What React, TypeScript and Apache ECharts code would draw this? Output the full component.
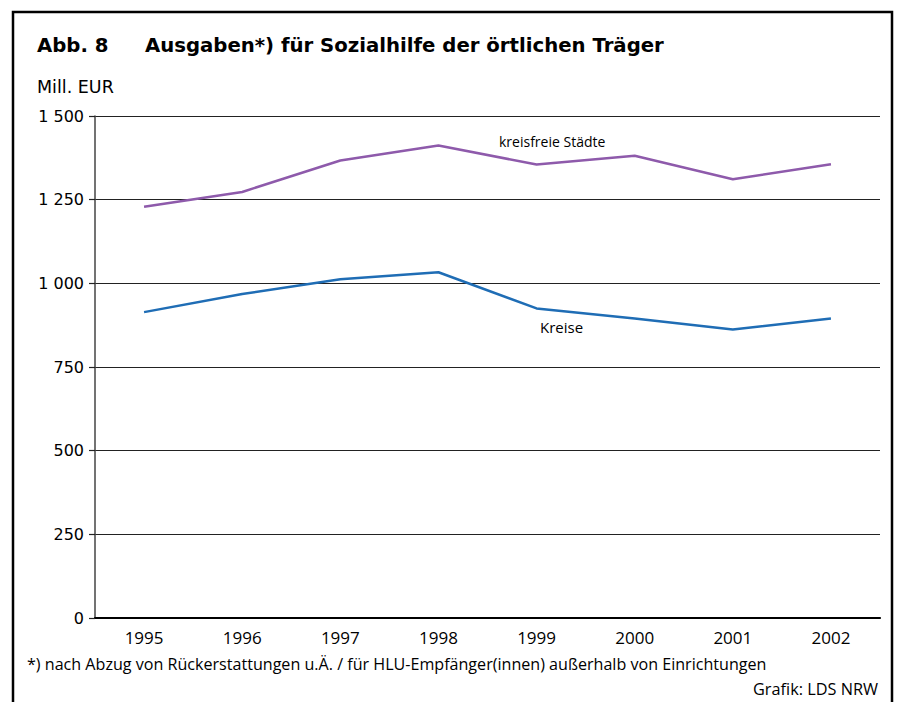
import React, { useEffect, useRef } from "react";
import * as echarts from "echarts";

const years = ["1995", "1996", "1997", "1998", "1999", "2000", "2001", "2002"];
const kreisfreieStaedte = [1229, 1273, 1367, 1412, 1355, 1381, 1311, 1356];
const kreise = [914, 968, 1012, 1033, 925, 895, 862, 895];
const yTicks = [0, 250, 500, 750, 1000, 1250, 1500];

const FONT = "'Open Sans', 'Noto Sans', sans-serif";
const DFONT = "'DejaVu Sans', 'Open Sans', sans-serif";

function fmt(v: number): string {
  const s = String(v);
  if (s.length > 3) return s.slice(0, s.length - 3) + " " + s.slice(s.length - 3);
  return s;
}

export default function App() {
  const ref = useRef<HTMLDivElement>(null);
  useEffect(() => {
    if (!ref.current) return;
    const chart = echarts.init(ref.current, null, { renderer: "svg" });
    chart.setOption({
      animation: false,
      backgroundColor: "#ffffff",
      grid: { left: 95, right: 19, top: 116, bottom: 84, containLabel: false },
      xAxis: {
        type: "category",
        data: years,
        boundaryGap: true,
        axisLine: { show: true, onZero: true, lineStyle: { color: "#000", width: 2.2 } },
        axisTick: { show: false },
        axisLabel: { color: "#000", fontSize: 17, fontFamily: FONT, margin: 11 },
        splitLine: { show: false },
      },
      yAxis: {
        type: "value",
        min: yTicks[0],
        max: yTicks[yTicks.length - 1],
        interval: 250,
        axisLine: { show: true, lineStyle: { color: "#444", width: 1.5 } },
        axisTick: { show: true, length: 6, lineStyle: { color: "#222", width: 1.2 } },
        axisLabel: {
          color: "#000",
          fontSize: 16,
          fontFamily: DFONT,
          margin: 11,
          formatter: (v: number) => fmt(v),
        },
        splitLine: { show: true, lineStyle: { color: "#222", width: 1.2 } },
      },
      series: [
        {
          type: "line",
          name: "kreisfreie Städte",
          data: kreisfreieStaedte,
          symbol: "none",
          lineStyle: { color: "#8e5aab", width: 2.5 },
          z: 3,
        },
        {
          type: "line",
          name: "Kreise",
          data: kreise,
          symbol: "none",
          lineStyle: { color: "#1f6db5", width: 2.5 },
          z: 3,
        },
      ],
      graphic: [
        {
          type: "rect",
          shape: { x: 13, y: 12, width: 879, height: 720 },
          style: { fill: "none", stroke: "#000", lineWidth: 2.5 },
          silent: true,
          z: 10,
        },
        {
          type: "text",
          left: 37,
          top: 35,
          style: { text: "Abb. 8", font: `bold 19.7px ${DFONT}`, fill: "#000" },
        },
        {
          type: "text",
          left: 145,
          top: 35,
          style: {
            text: "Ausgaben*) für Sozialhilfe der örtlichen Träger",
            font: `bold 19.7px ${DFONT}`,
            fill: "#000",
          },
        },
        {
          type: "text",
          left: 37,
          top: 78,
          style: { text: "Mill. EUR", font: `17.5px ${DFONT}`, fill: "#000" },
        },
        {
          type: "text",
          left: 499,
          top: 134,
          style: { text: "kreisfreie Städte", font: `14px ${FONT}`, fill: "#000" },
        },
        {
          type: "text",
          left: 540,
          top: 319,
          style: { text: "Kreise", font: `15px ${FONT}`, fill: "#000" },
        },
        {
          type: "text",
          left: 27,
          top: 656,
          style: {
            text: "*) nach Abzug von Rückerstattungen u.Ä. / für HLU-Empfänger(innen) außerhalb von Einrichtungen",
            font: `16.1px ${FONT}`,
            fill: "#000",
          },
        },
        {
          type: "text",
          right: 21,
          top: 681,
          style: { text: "Grafik: LDS NRW", font: `16.3px ${FONT}`, fill: "#000" },
        },
      ],
    });
    return () => chart.dispose();
  }, []);
  return (
    <div
      ref={ref}
      style={{ position: "fixed", left: 0, top: 0, width: 899, height: 702 }}
    />
  );
}
